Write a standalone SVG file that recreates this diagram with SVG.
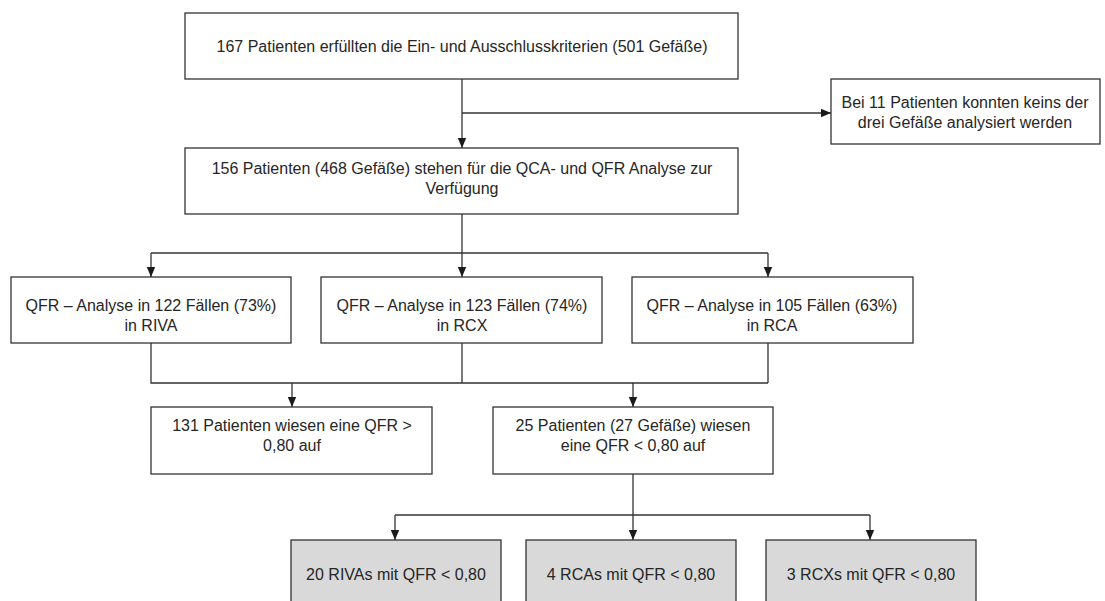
<svg xmlns="http://www.w3.org/2000/svg" width="1105" height="601" viewBox="0 0 1105 601">
<defs>
<style>
.box{fill:#ffffff;stroke:#333333;stroke-width:1.3}
.gbox{fill:#d9d9d9;stroke:#333333;stroke-width:1.3}
.t{font-family:"Liberation Sans",Arial,sans-serif;font-size:16px;fill:#262626;text-anchor:middle;dominant-baseline:central}
.c{fill:none;stroke:#333333;stroke-width:1.3}
</style>
<marker id="ah" markerUnits="userSpaceOnUse" markerWidth="10" markerHeight="10" viewBox="0 0 10 10" refX="10" refY="5" orient="auto">
<path d="M0,0.8 L10,5 L0,9.2 Z" fill="#1a1a1a"/>
</marker>
</defs>
<rect width="1105" height="601" fill="#ffffff"/>
<g id="connectors">
<path class="c" d="M462,79 V148" marker-end="url(#ah)"/>
<path class="c" d="M462,113 H831" marker-end="url(#ah)"/>
<path class="c" d="M462,214 V253"/>
<path class="c" d="M151,253 H768"/>
<path class="c" d="M151,253 V277" marker-end="url(#ah)"/>
<path class="c" d="M462,253 V277" marker-end="url(#ah)"/>
<path class="c" d="M768,253 V277" marker-end="url(#ah)"/>
<path class="c" d="M151,343 V383 H768 M462,343 V383 M768,343 V383"/>
<path class="c" d="M292,383 V407" marker-end="url(#ah)"/>
<path class="c" d="M633,383 V407" marker-end="url(#ah)"/>
<path class="c" d="M633,474 V515"/>
<path class="c" d="M395,515 H870"/>
<path class="c" d="M395,515 V540" marker-end="url(#ah)"/>
<path class="c" d="M633,515 V540" marker-end="url(#ah)"/>
<path class="c" d="M870,515 V540" marker-end="url(#ah)"/>
</g>
<g id="n1"><rect class="box" x="185" y="13" width="553" height="66"/>
<text class="t" x="462" y="46">167 Patienten erfüllten die Ein- und Ausschlusskriterien (501 Gefäße)</text></g>
<g id="n2"><rect class="box" x="831" y="79" width="269" height="65"/>
<text class="t" x="965" y="102">Bei 11 Patienten konnten keins der</text>
<text class="t" x="965" y="122">drei Gefäße analysiert werden</text></g>
<g id="n3"><rect class="box" x="185" y="148" width="553" height="66"/>
<text class="t" x="462" y="168">156 Patienten (468 Gefäße) stehen für die QCA- und QFR Analyse  zur</text>
<text class="t" x="462" y="188">Verfügung</text></g>
<g id="n4"><rect class="box" x="11" y="277" width="280" height="66"/>
<text class="t" x="151" y="305">QFR – Analyse in 122 Fällen (73%)</text>
<text class="t" x="151" y="325">in RIVA</text></g>
<g id="n5"><rect class="box" x="321" y="277" width="281" height="66"/>
<text class="t" x="462" y="305">QFR – Analyse in 123 Fällen (74%)</text>
<text class="t" x="462" y="325">in RCX</text></g>
<g id="n6"><rect class="box" x="632" y="277" width="281" height="66"/>
<text class="t" x="772" y="305">QFR – Analyse in 105 Fällen (63%)</text>
<text class="t" x="772" y="325">in RCA</text></g>
<g id="n7"><rect class="box" x="151" y="407" width="281" height="67"/>
<text class="t" x="292" y="425">131 Patienten wiesen eine QFR &gt;</text>
<text class="t" x="292" y="445">0,80 auf</text></g>
<g id="n8"><rect class="box" x="493" y="407" width="280" height="67"/>
<text class="t" x="633" y="425">25 Patienten (27 Gefäße) wiesen</text>
<text class="t" x="633" y="445">eine QFR &lt; 0,80 auf</text></g>
<g id="n9"><rect class="gbox" x="291" y="540" width="210" height="75"/>
<text class="t" x="396" y="574">20 RIVAs  mit QFR &lt; 0,80</text></g>
<g id="n10"><rect class="gbox" x="526" y="540" width="210" height="75"/>
<text class="t" x="631" y="574">4 RCAs mit QFR &lt; 0,80</text></g>
<g id="n11"><rect class="gbox" x="766" y="540" width="210" height="75"/>
<text class="t" x="871" y="574">3 RCXs mit QFR &lt; 0,80</text></g>
</svg>
